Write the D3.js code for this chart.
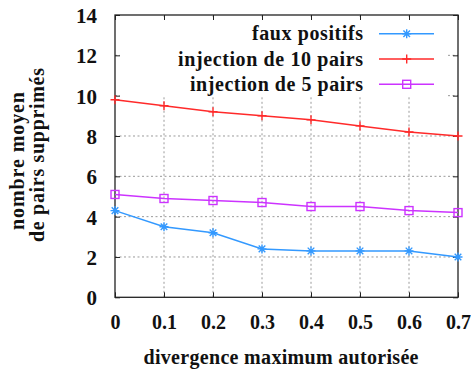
<!DOCTYPE html>
<html>
<head>
<meta charset="utf-8">
<script src="https://cdn.jsdelivr.net/npm/d3@7"></script>
<style>
  html, body { margin: 0; padding: 0; background: #fff; }
  svg { display: block; }
</style>
</head>
<body>
<svg id="chart" width="471" height="370"></svg>
<script>
// Divergence thresholds on the x axis
const divergence = [0, 0.1, 0.2, 0.3, 0.4, 0.5, 0.6, 0.7];
const xTickLabels = ["0", "0.1", "0.2", "0.3", "0.4", "0.5", "0.6", "0.7"];
const yTicks = [0, 2, 4, 6, 8, 10, 12, 14];

// Mean number of removed pairs per series
const fauxPositifs = [4.3, 3.5, 3.2, 2.4, 2.3, 2.3, 2.3, 2.0];
const injection10 = [9.8, 9.5, 9.2, 9.0, 8.8, 8.5, 8.2, 8.0];
const injection5 = [5.1, 4.9, 4.8, 4.7, 4.5, 4.5, 4.3, 4.2];

const seriesNames = ["faux positifs", "injection de 10 pairs", "injection de 5 pairs"];

const series = [
  { name: seriesNames[0], values: fauxPositifs, color: "#3399ff", marker: "star", textLen: 111 },
  { name: seriesNames[1], values: injection10, color: "#ff2a2a", marker: "plus", textLen: 185 },
  { name: seriesNames[2], values: injection5, color: "#cc33ff", marker: "square", textLen: 173 }
];

const FONT = "font-family:'Liberation Serif','Times New Roman',serif;font-weight:bold;fill:#111;";

const svg = d3.select("#chart");
const m = { left: 115, right: 458, top: 15, bottom: 297.3 };

const x = d3.scaleLinear().domain([0, 0.7]).range([m.left, m.right]);
const y = d3.scaleLinear().domain([0, 14]).range([m.bottom, m.top]);

// Dotted grid on interior ticks
const grid = svg.append("g").attr("stroke", "#9a9a9a").attr("stroke-width", 1)
  .attr("stroke-dasharray", "2,2.5").attr("fill", "none");
grid.selectAll("line.gx").data(divergence.slice(1, -1)).join("line")
  .attr("x1", d => x(d)).attr("x2", d => x(d))
  .attr("y1", m.bottom).attr("y2", m.top);
grid.selectAll("line.gy").data(yTicks.slice(1, -1)).join("line")
  .attr("y1", d => y(d)).attr("y2", d => y(d))
  .attr("x1", m.left).attr("x2", m.right);

// Key area is opaque
svg.append("rect").attr("x", 120).attr("y", 17).attr("width", 326).attr("height", 80).attr("fill", "#fff");

// Axes with inward ticks on all four sides
const tickLen = 5;
const axB = svg.append("g").attr("transform", `translate(0,${m.bottom})`)
  .call(d3.axisBottom(x).tickValues(divergence).tickSize(-tickLen).tickFormat((d, i) => xTickLabels[i]).tickPadding(0));
const axT = svg.append("g").attr("transform", `translate(0,${m.top})`)
  .call(d3.axisTop(x).tickValues(divergence).tickSize(-tickLen).tickFormat(""));
const axL = svg.append("g").attr("transform", `translate(${m.left},0)`)
  .call(d3.axisLeft(y).tickValues(yTicks).tickSize(-tickLen).tickFormat(d3.format("d")).tickPadding(0));
const axR = svg.append("g").attr("transform", `translate(${m.right},0)`)
  .call(d3.axisRight(y).tickValues(yTicks).tickSize(-tickLen).tickFormat(""));

[axB, axT, axL, axR].forEach(a => {
  a.select(".domain").remove();
  a.selectAll(".tick line").attr("stroke", "#222").attr("stroke-width", 1);
});

axB.selectAll(".tick text")
  .attr("style", FONT + "font-size:20px")
  .attr("y", 32).attr("dy", 0);
axL.selectAll(".tick text")
  .attr("style", FONT + "font-size:21px")
  .attr("x", -18).attr("dy", "0.35em");

// Plot frame
svg.append("rect").attr("x", m.left).attr("y", m.top)
  .attr("width", m.right - m.left).attr("height", m.bottom - m.top)
  .attr("fill", "none").attr("stroke", "#222").attr("stroke-width", 1.3);

// Marker shapes
function drawMarker(g, kind, cx, cy, color) {
  if (kind === "square") {
    g.append("rect").attr("x", cx - 4).attr("y", cy - 4).attr("width", 8).attr("height", 8)
      .attr("fill", "none").attr("stroke", color).attr("stroke-width", 1.4);
  } else if (kind === "plus") {
    g.append("path").attr("d", `M${cx - 4.5},${cy}H${cx + 4.5}M${cx},${cy - 4.5}V${cy + 4.5}`)
      .attr("stroke", color).attr("stroke-width", 1.4);
  } else {
    const r = 4.5, r2 = 3.3;
    g.append("path").attr("d",
      `M${cx - r},${cy}H${cx + r}M${cx},${cy - r}V${cy + r}` +
      `M${cx - r2},${cy - r2}L${cx + r2},${cy + r2}M${cx - r2},${cy + r2}L${cx + r2},${cy - r2}`)
      .attr("stroke", color).attr("stroke-width", 1.4);
  }
}

const line = d3.line().x((d, i) => x(divergence[i])).y(d => y(d));
const plot = svg.append("g");
series.forEach(s => {
  plot.append("path").datum(s.values).attr("d", line)
    .attr("fill", "none").attr("stroke", s.color).attr("stroke-width", 1.5);
  const mg = plot.append("g");
  s.values.forEach((v, i) => drawMarker(mg, s.marker, x(divergence[i]), y(v), s.color));
});

// Key
const key = svg.append("g");
series.forEach((s, i) => {
  const cy = 33.7 + i * 25.3;
  key.append("text").attr("x", 363).attr("y", cy + 6.5).attr("text-anchor", "end")
    .attr("style", FONT + "font-size:20px")
    .attr("textLength", s.textLen).attr("lengthAdjust", "spacing")
    .text(s.name);
  key.append("line").attr("x1", 379).attr("x2", 434).attr("y1", cy).attr("y2", cy)
    .attr("stroke", s.color).attr("stroke-width", 1.5);
  drawMarker(key, s.marker, 406.7, cy, s.color);
});

// Axis titles
svg.append("text").attr("x", 281).attr("y", 364).attr("text-anchor", "middle")
  .attr("style", FONT + "font-size:20px")
  .attr("textLength", 275).attr("lengthAdjust", "spacing")
  .text("divergence maximum autorisée");

svg.append("text").attr("transform", "translate(24,161) rotate(-90)").attr("text-anchor", "middle")
  .attr("style", FONT + "font-size:20px")
  .attr("textLength", 138).attr("lengthAdjust", "spacing")
  .text("nombre moyen");
svg.append("text").attr("transform", "translate(44,155) rotate(-90)").attr("text-anchor", "middle")
  .attr("style", FONT + "font-size:20px")
  .attr("textLength", 174).attr("lengthAdjust", "spacing")
  .text("de pairs supprimés");
</script>
</body>
</html>
